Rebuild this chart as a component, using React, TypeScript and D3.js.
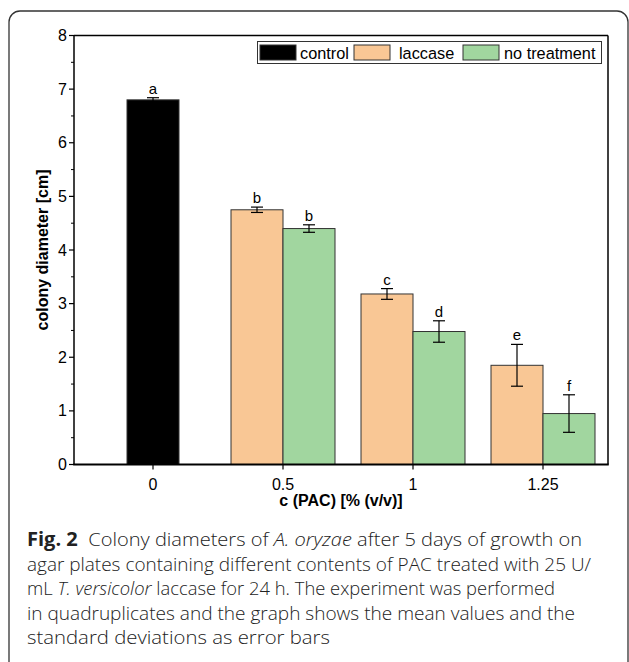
import React from "react";
import * as d3 from "d3";

const categories = ["0", "0.5", "1", "1.25"];
const seriesNames = ["control", "laccase", "no treatment"];
const controlValues = [6.8, null, null, null];
const controlErrors = [0.04, null, null, null];
const laccaseValues = [null, 4.75, 3.18, 1.85];
const laccaseErrors = [null, 0.05, 0.1, 0.39];
const noTreatmentValues = [null, 4.4, 2.48, 0.95];
const noTreatmentErrors = [null, 0.07, 0.2, 0.35];
const controlLetters = ["a", null, null, null];
const laccaseLetters = [null, "b", "c", "e"];
const noTreatmentLetters = [null, "b", "d", "f"];
const yTicks = [0, 1, 2, 3, 4, 5, 6, 7, 8];
const colors = ["#000000", "#F9C795", "#A1D69F"];

const W = 629;
const H = 662;
const plot = { left: 74, right: 608, top: 35.5, bottom: 464.5 };

const captionLines = [
  [
    { t: "Fig. 2", w: 700 },
    { t: "  Colony diameters of ", w: 300 },
    { t: "A. oryzae", w: 300, i: true },
    { t: " after 5 days of growth on", w: 300 },
  ],
  [{ t: "agar plates containing different contents of PAC treated with 25 U/", w: 300 }],
  [
    { t: "mL ", w: 300 },
    { t: "T. versicolor", w: 300, i: true },
    { t: " laccase for 24 h. The experiment was performed", w: 300 },
  ],
  [{ t: "in quadruplicates and the graph shows the mean values and the", w: 300 }],
  [{ t: "standard deviations as error bars", w: 300 }],
];
const captionWidths = [555, 564, 528, 548, 303];

export default function App() {
  const x = d3.scalePoint<string>().domain(categories).range([153, 543]);
  const y = d3.scaleLinear().domain([0, 8]).range([plot.bottom, plot.top]);
  const bw = x.step() * 0.4;

  const series = [
    { vals: controlValues, errs: controlErrors, letters: controlLetters, off: -0.5 },
    { vals: laccaseValues, errs: laccaseErrors, letters: laccaseLetters, off: -1 },
    { vals: noTreatmentValues, errs: noTreatmentErrors, letters: noTreatmentLetters, off: 0 },
  ];

  const minorTicks = d3.range(0.5, 8, 1);
  const font = "'Liberation Sans', Arial, sans-serif";
  const capFont = "'Open Sans', 'Noto Sans', sans-serif";

  const legendItems = [
    { sx: 260, tx: 300 },
    { sx: 354, tx: 399 },
    { sx: 463, tx: 504 },
  ];

  return (
    <svg width={W} height={H} style={{ position: "absolute", left: 0, top: 0 }}>
      <rect width={W} height={H} fill="#fff" />
      <rect x={9} y={11} width={619} height={670} rx={11} ry={11} fill="none" stroke="#333" strokeWidth={1.3} />

      {/* bars */}
      {series.map((s, si) =>
        categories.map((c, ci) => {
          const v = s.vals[ci];
          if (v == null) return null;
          const x0 = (x(c) as number) + s.off * bw;
          return (
            <rect
              key={`b${si}${ci}`}
              x={x0}
              y={y(v)}
              width={bw}
              height={y(0) - y(v)}
              fill={colors[si]}
              stroke="#333"
              strokeWidth={1}
            />
          );
        })
      )}
      {/* error bars and letters */}
      {series.map((s, si) =>
        categories.map((c, ci) => {
          const v = s.vals[ci];
          const e = s.errs[ci];
          if (v == null || e == null) return null;
          const cx = (x(c) as number) + (s.off + 0.5) * bw;
          return (
            <g key={`e${si}${ci}`} stroke="#000" strokeWidth={1.2}>
              <line x1={cx} x2={cx} y1={y(v + e)} y2={y(v - e)} />
              <line x1={cx - 6} x2={cx + 6} y1={y(v + e)} y2={y(v + e)} />
              <line x1={cx - 6} x2={cx + 6} y1={y(v - e)} y2={y(v - e)} />
              <text
                x={cx}
                y={y(v + e) - 4}
                textAnchor="middle"
                fontFamily={font}
                fontSize={15}
                stroke="none"
                fill="#000"
              >
                {s.letters[ci]}
              </text>
            </g>
          );
        })
      )}

      {/* frame */}
      <line x1={plot.left} x2={plot.right} y1={plot.top} y2={plot.top} stroke="#000" strokeWidth={1.3} />
      <line x1={plot.right} x2={plot.right} y1={plot.top} y2={plot.bottom} stroke="#000" strokeWidth={1.5} />
      <line x1={plot.left} x2={plot.left} y1={plot.top} y2={plot.bottom} stroke="#000" strokeWidth={1.5} />
      <line x1={plot.left - 0.75} x2={plot.right + 0.75} y1={plot.bottom} y2={plot.bottom} stroke="#000" strokeWidth={2} />

      {/* y ticks */}
      {yTicks.map((t) => (
        <g key={`yt${t}`}>
          <line x1={plot.left - 5} x2={plot.left} y1={y(t)} y2={y(t)} stroke="#000" strokeWidth={1.2} />
          <text x={plot.left - 7} y={y(t) + 5.5} textAnchor="end" fontFamily={font} fontSize={16}>
            {t}
          </text>
        </g>
      ))}
      {minorTicks.map((t) => (
        <line key={`ym${t}`} x1={plot.left - 3} x2={plot.left} y1={y(t)} y2={y(t)} stroke="#000" strokeWidth={1} />
      ))}
      {/* x ticks */}
      {categories.map((c) => (
        <g key={`xt${c}`}>
          <line x1={x(c)} x2={x(c)} y1={plot.bottom} y2={plot.bottom + 5} stroke="#000" strokeWidth={1.2} />
          <text x={x(c)} y={plot.bottom + 25} textAnchor="middle" fontFamily={font} fontSize={16}>
            {c}
          </text>
        </g>
      ))}

      {/* axis titles */}
      <text
        transform={`translate(48, ${(plot.top + plot.bottom) / 2}) rotate(-90)`}
        textAnchor="middle"
        fontFamily={font}
        fontSize={16}
        fontWeight="bold"
      >
        colony diameter [cm]
      </text>
      <text x={341} y={506} textAnchor="middle" fontFamily={font} fontSize={16} fontWeight="bold">
        c (PAC) [% (v/v)]
      </text>

      {/* legend */}
      <rect x={257.5} y={41.5} width={344} height={22} fill="#fff" stroke="#333" strokeWidth={1} />
      {seriesNames.map((n, i) => (
        <g key={`lg${i}`}>
          <rect x={legendItems[i].sx} y={45} width={36} height={15} fill={colors[i]} stroke="#333" strokeWidth={1} />
          <text x={legendItems[i].tx} y={58.5} fontFamily={font} fontSize={16.3}>
            {n}
          </text>
        </g>
      ))}

      {/* caption */}
      {captionLines.map((line, li) => (
        <text
          key={`cap${li}`}
          x={27}
          y={546 + li * 24.5}
          fontFamily={capFont}
          fontSize={19}
          fill="#222"
          textLength={captionWidths[li]}
          lengthAdjust="spacingAndGlyphs"
        >
          {line.map((p, pi) => (
            <tspan key={pi} fontWeight={p.w} fontStyle={p.i ? "italic" : "normal"} style={{ whiteSpace: "pre" }}>
              {p.t}
            </tspan>
          ))}
        </text>
      ))}
    </svg>
  );
}
